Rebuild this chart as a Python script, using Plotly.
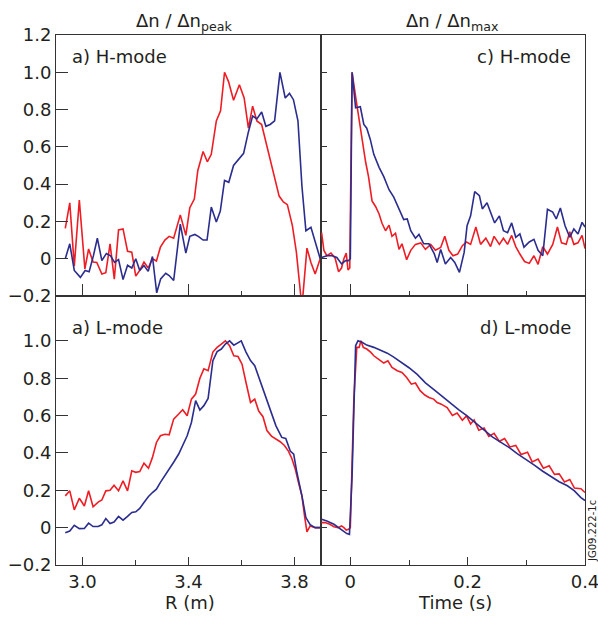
import plotly.graph_objects as go

# ---------------- data ----------------
# a) H-mode, radial profile (R in m)
R_H_red = [2.935,2.952,2.969,2.988,3.009,3.023,3.040,3.054,3.073,3.088,
           3.104,3.120,3.136,3.153,3.170,3.186,3.201,3.216,3.232,3.248,
           3.264,3.279,3.294,3.311,3.327,3.344,3.369,3.390,3.405,3.422,
           3.435,3.455,3.471,3.486,3.505,3.521,3.536,3.551,3.570,3.592,
           3.610,3.626,3.642,3.658,3.676,3.692,3.708,3.723,3.742,3.758,
           3.773,3.792,3.807,3.828,3.847,3.862,3.878,3.897]
H_red = [0.163,0.30,-0.04,0.315,-0.055,0.052,-0.018,-0.02,-0.082,-0.075,
         0.08,-0.11,0.154,0.16,0.04,0.035,-0.093,-0.063,-0.018,-0.05,
         0.0,-0.012,0.062,0.10,0.12,0.11,0.235,0.125,0.274,0.32,
         0.472,0.575,0.52,0.56,0.739,0.793,1.0,0.95,0.85,0.933,
         0.862,0.70,0.818,0.739,0.72,0.63,0.53,0.452,0.336,0.305,
         0.29,0.178,0.036,-0.26,0.057,-0.02,-0.082,0.0]
R_H_blue = [2.935,2.952,2.969,2.992,3.010,3.025,3.041,3.056,3.073,3.090,
            3.106,3.121,3.136,3.153,3.170,3.186,3.201,3.216,3.232,3.248,
            3.264,3.280,3.295,3.314,3.327,3.344,3.369,3.390,3.405,3.424,
            3.437,3.455,3.470,3.486,3.505,3.520,3.536,3.552,3.570,3.586,
            3.608,3.626,3.642,3.658,3.676,3.692,3.708,3.725,3.745,3.765,
            3.781,3.796,3.813,3.828,3.843,3.862,3.878,3.897]
H_blue = [0.0,0.08,-0.063,-0.1,-0.063,-0.07,0.015,0.11,-0.01,0.028,
          0.015,-0.02,-0.005,-0.112,-0.035,-0.05,0.0,-0.063,-0.036,-0.068,
          0.012,-0.183,-0.108,-0.078,-0.09,-0.117,0.186,0.03,0.12,0.13,
          0.12,0.10,0.10,0.277,0.197,0.256,0.42,0.41,0.50,0.53,
          0.565,0.68,0.765,0.75,0.787,0.71,0.72,0.74,1.0,0.862,
          0.887,0.853,0.74,0.39,0.15,0.168,0.094,0.0]

# c) H-mode, time trace (t in s)
t_Hc_red = [-0.049,-0.045,-0.040,-0.033,-0.026,-0.020,-0.015,-0.011,-0.007,-0.004,
            -0.001,0.003,0.009,0.014,0.020,0.026,0.031,0.037,0.043,0.049,
            0.054,0.060,0.066,0.071,0.077,0.083,0.088,0.096,0.103,0.111,
            0.120,0.128,0.137,0.145,0.154,0.161,0.168,0.175,0.183,0.191,
            0.198,0.205,0.214,0.222,0.231,0.239,0.245,0.254,0.261,0.268,
            0.275,0.282,0.289,0.297,0.305,0.313,0.320,0.328,0.336,0.345,
            0.353,0.360,0.368,0.374,0.381,0.388,0.395,0.400]
Hc_red = [0.14,0.044,0.016,0.03,0.004,-0.07,-0.05,0.0,0.03,-0.06,
          -0.05,1.0,0.87,0.76,0.64,0.52,0.44,0.31,0.28,0.24,
          0.19,0.15,0.18,0.12,0.137,0.05,0.08,-0.005,0.045,0.077,
          0.085,0.05,0.077,0.045,0.06,0.12,0.045,0.016,0.025,0.07,
          0.09,0.077,0.17,0.077,0.11,0.065,0.12,0.077,0.11,0.077,
          0.125,0.065,0.025,-0.015,-0.025,0.016,-0.03,0.065,0.025,0.077,
          0.17,0.085,0.077,0.145,0.077,0.085,0.125,0.055]
t_Hc_blue = [-0.049,-0.040,-0.031,-0.023,-0.015,-0.008,-0.003,0.000,
             0.003,0.009,0.017,0.023,0.028,0.034,0.040,0.049,0.057,0.066,
             0.074,0.083,0.091,0.097,0.103,0.111,0.117,0.125,0.134,0.143,
             0.148,0.154,0.162,0.171,0.178,0.186,0.194,0.199,0.205,0.212,
             0.220,0.225,0.233,0.239,0.246,0.254,0.261,0.268,0.275,0.282,
             0.289,0.296,0.305,0.313,0.320,0.328,0.336,0.345,0.351,0.358,
             0.366,0.374,0.381,0.388,0.395,0.400]
Hc_blue = [0.007,0.016,0.016,0.007,-0.028,-0.01,-0.01,0.0,
           1.0,0.81,0.815,0.72,0.70,0.64,0.56,0.49,0.44,0.37,
           0.33,0.27,0.21,0.213,0.15,0.11,0.13,0.08,0.08,0.027,
           -0.02,0.05,-0.028,0.007,-0.02,-0.073,0.034,0.177,0.23,0.36,
           0.338,0.267,0.30,0.249,0.192,0.23,0.15,0.14,0.192,0.115,
           0.133,0.062,0.09,0.104,0.045,0.016,0.265,0.25,0.213,0.272,
           0.177,0.115,0.16,0.133,0.195,0.17]

# a) L-mode, radial profile
R_L_red = [2.935,2.952,2.969,2.988,3.007,3.023,3.040,3.059,3.073,3.088,
           3.104,3.119,3.136,3.153,3.170,3.186,3.201,3.216,3.232,3.249,
           3.264,3.279,3.294,3.311,3.327,3.344,3.363,3.378,3.395,3.411,
           3.427,3.443,3.458,3.474,3.492,3.508,3.524,3.539,3.555,3.571,
           3.587,3.602,3.617,3.634,3.650,3.665,3.681,3.696,3.713,3.730,
           3.746,3.762,3.777,3.790,3.803,3.815,3.828,3.838,3.847,3.859,
           3.878,3.900]
L_red = [0.17,0.197,0.095,0.157,0.116,0.197,0.112,0.137,0.148,0.197,
         0.20,0.227,0.197,0.25,0.197,0.304,0.296,0.30,0.345,0.318,
         0.376,0.456,0.492,0.50,0.497,0.581,0.608,0.631,0.599,0.688,
         0.715,0.80,0.85,0.84,0.94,0.965,0.983,1.0,0.974,0.92,
         0.916,0.875,0.777,0.67,0.688,0.624,0.594,0.52,0.49,0.474,
         0.46,0.44,0.41,0.37,0.313,0.241,0.17,0.062,-0.023,0.009,
         0.0,0.0]
R_L_blue = [2.935,2.952,2.969,2.988,3.007,3.023,3.040,3.059,3.073,3.088,
            3.104,3.119,3.136,3.153,3.170,3.186,3.201,3.216,3.232,3.249,
            3.264,3.279,3.294,3.311,3.327,3.344,3.363,3.378,3.395,3.411,
            3.427,3.443,3.458,3.474,3.492,3.508,3.524,3.539,3.555,3.571,
            3.587,3.599,3.617,3.634,3.650,3.665,3.681,3.696,3.713,3.730,
            3.752,3.767,3.784,3.797,3.809,3.828,3.843,3.859,3.878,3.900]
L_blue = [-0.027,-0.018,0.013,-0.005,-0.004,0.024,0.006,0.006,0.015,0.049,
          0.022,0.03,0.06,0.04,0.06,0.081,0.085,0.103,0.135,0.167,
          0.188,0.206,0.242,0.277,0.31,0.35,0.394,0.438,0.492,0.563,
          0.68,0.63,0.653,0.692,0.894,0.942,0.956,0.983,1.0,0.977,
          0.99,1.0,0.94,0.894,0.867,0.804,0.74,0.68,0.613,0.545,
          0.483,0.477,0.41,0.393,0.295,0.17,0.054,0.016,0.0,0.0]

# d) L-mode, time trace
t_Ld_red = [-0.049,-0.043,-0.035,-0.028,-0.021,-0.015,-0.011,-0.007,-0.003,0.000,
            0.006,0.011,0.015,0.018,0.022,0.028,0.035,0.040,0.049,0.057,
            0.064,0.071,0.080,0.088,0.096,0.104,0.111,0.119,0.127,0.134,
            0.142,0.148,0.155,0.165,0.174,0.182,0.191,0.198,0.205,0.211,
            0.219,0.228,0.236,0.245,0.254,0.263,0.272,0.282,0.291,0.302,
            0.310,0.320,0.329,0.339,0.348,0.356,0.365,0.374,0.382,0.393,
            0.400]
Ld_red = [0.027,0.027,0.018,0.005,0.0,0.009,0.0,-0.013,-0.009,0.0,
          0.688,0.965,0.965,1.0,0.965,0.956,0.938,0.92,0.899,0.881,
          0.893,0.858,0.84,0.831,0.804,0.768,0.774,0.733,0.71,0.697,
          0.688,0.67,0.661,0.643,0.60,0.613,0.575,0.598,0.555,0.577,
          0.522,0.533,0.488,0.505,0.462,0.477,0.432,0.44,0.392,0.404,
          0.352,0.367,0.318,0.331,0.285,0.288,0.245,0.258,0.212,0.208,
          0.188]
t_Ld_blue = [-0.049,-0.040,-0.028,-0.017,-0.006,-0.0015,0.003,0.009,0.013,0.020,
             0.028,0.040,0.051,0.063,0.074,0.085,0.100,0.114,0.128,0.143,
             0.157,0.171,0.185,0.199,0.214,0.228,0.242,0.256,0.271,0.285,
             0.299,0.313,0.328,0.342,0.356,0.370,0.382,0.393,0.400]
Ld_blue = [0.045,0.036,0.018,-0.005,-0.032,-0.036,0.277,0.974,1.0,0.992,
           0.977,0.965,0.952,0.934,0.913,0.89,0.856,0.82,0.775,0.737,
           0.70,0.662,0.63,0.598,0.558,0.522,0.486,0.458,0.428,0.395,
           0.367,0.336,0.302,0.274,0.246,0.224,0.197,0.161,0.145]

for a, b in [(R_H_red, H_red), (R_H_blue, H_blue), (t_Hc_red, Hc_red),
             (t_Hc_blue, Hc_blue), (R_L_red, L_red), (R_L_blue, L_blue),
             (t_Ld_red, Ld_red), (t_Ld_blue, Ld_blue)]:
    assert len(a) == len(b), (len(a), len(b))

# tick definitions
Y_TICKS_TOP = [-0.2, 0, 0.2, 0.4, 0.6, 0.8, 1.0, 1.2]
Y_TEXT_TOP = ["\u22120.2", "0", "0.2", "0.4", "0.6", "0.8", "1.0", "1.2"]
Y_TICKS_BOT = [-0.2, 0, 0.2, 0.4, 0.6, 0.8, 1.0]
Y_TEXT_BOT = ["\u22120.2", "0", "0.2", "0.4", "0.6", "0.8", "1.0"]
R_TICKS = [3.0, 3.4, 3.8]
R_TEXT = ["3.0", "3.4", "3.8"]
R_MINOR = [3.2, 3.6]
T_TICKS = [0, 0.2, 0.4]
T_TEXT = ["0", "0.2", "0.4"]
T_MINOR = [0.1, 0.3]

# ---------------- style ----------------
W, H = 598, 619
RED = "#ee1d25"
BLUE = "#2b2d8e"
AX = "#333333"
TXT = "#231f20"
FONT = "DejaVu Sans"
FS = 18


def px(x):
    return x / W


def py(y):
    return 1 - y / H


XL = [px(56), px(321)]
XR = [px(321), px(585)]
YT = [py(296), py(35)]
YB = [py(565), py(296)]

fig = go.Figure()


def add(x, y, color, xa, ya):
    fig.add_trace(go.Scatter(x=x, y=y, mode="lines",
                             line=dict(color=color, width=1.6),
                             xaxis=xa, yaxis=ya, showlegend=False,
                             hoverinfo="skip"))


add(R_H_red, H_red, RED, "x", "y")
add(R_H_blue, H_blue, BLUE, "x", "y")
add(t_Hc_red, Hc_red, RED, "x2", "y2")
add(t_Hc_blue, Hc_blue, BLUE, "x2", "y2")
add(R_L_red, L_red, RED, "x3", "y3")
add(R_L_blue, L_blue, BLUE, "x3", "y3")
add(t_Ld_red, Ld_red, RED, "x4", "y4")
add(t_Ld_blue, Ld_blue, BLUE, "x4", "y4")


def xaxis(domain, anchor, rng, vals, text, minor, labels, mlen, nlen):
    return dict(domain=domain, anchor=anchor, range=rng, automargin=False,
                showline=True, mirror=True, linecolor=AX, linewidth=1,
                ticks="inside", ticklen=mlen, tickwidth=1, tickcolor=AX,
                tickmode="array", tickvals=vals, ticktext=text,
                showticklabels=labels, showgrid=False, zeroline=False,
                ticklabeloverflow="allow",
                tickfont=dict(family=FONT, size=FS, color=TXT),
                minor=dict(ticks="inside", ticklen=nlen, tickwidth=1,
                           tickcolor=AX, tickmode="array", tickvals=minor,
                           showgrid=False))


def yaxis(domain, anchor, rng, vals, text, labels, tlen):
    return dict(domain=domain, anchor=anchor, range=rng, automargin=False,
                showline=True, mirror=True, linecolor=AX, linewidth=1,
                ticks="inside", ticklen=tlen, tickwidth=1, tickcolor=AX,
                tickmode="array", tickvals=vals, ticktext=text,
                showticklabels=labels, showgrid=False, zeroline=False,
                ticklabeloverflow="allow",
                tickfont=dict(family=FONT, size=FS, color=TXT))


fig.update_layout(
    template="none",
    width=W, height=H,
    margin=dict(l=0, r=0, t=0, b=0, pad=0),
    paper_bgcolor="white", plot_bgcolor="white",
    font=dict(family=FONT, size=FS, color=TXT),
    xaxis=xaxis(XL, "y", [2.9, 3.9], R_TICKS, R_TEXT, R_MINOR, False, 12, 5),
    yaxis=yaxis(YT, "x", [-0.2, 1.2], Y_TICKS_TOP, Y_TEXT_TOP, True, 12),
    xaxis2=xaxis(XR, "y2", [-0.05, 0.4], T_TICKS, T_TEXT, T_MINOR, False, 12, 5),
    yaxis2=yaxis(YT, "x2", [-0.2, 1.2], Y_TICKS_TOP, Y_TEXT_TOP, False, 6),
    xaxis3=xaxis(XL, "y3", [2.9, 3.9], R_TICKS, R_TEXT, R_MINOR, True, 8, 5),
    yaxis3=yaxis(YB, "x3", [-0.2, 1.24], Y_TICKS_BOT, Y_TEXT_BOT, True, 12),
    xaxis4=xaxis(XR, "y4", [-0.05, 0.4], T_TICKS, T_TEXT, T_MINOR, True, 8, 5),
    yaxis4=yaxis(YB, "x4", [-0.2, 1.24], Y_TICKS_BOT, Y_TEXT_BOT, False, 6),
)


def ann(text, x, y, xanchor="center", yanchor="middle", size=FS, angle=0):
    fig.add_annotation(text=text, x=px(x), y=py(y), xref="paper", yref="paper",
                       xanchor=xanchor, yanchor=yanchor, showarrow=False,
                       textangle=angle,
                       font=dict(family=FONT, size=size, color=TXT))


ann("\u0394n / \u0394n<sub>peak</sub>", 184, 22)
ann("\u0394n / \u0394n<sub>max</sub>", 452, 22)
ann("a) H-mode", 70, 57, xanchor="left")
ann("c) H-mode", 573, 57, xanchor="right")
ann("a) L-mode", 70, 327, xanchor="left")
ann("d) L-mode", 573, 327, xanchor="right")
ann("R (m)", 190, 602)
ann("Time (s)", 455, 602)
ann("JG09.222-1c", 592, 531, size=10, angle=-90)

# remove the page's default body margin so the figure sits at the window origin
PAGE_JS = ("document.body.style.margin='0px';"
           "document.documentElement.style.overflow='hidden';")
fig.write_html("out.html", default_width=f"{W}px", default_height=f"{H}px",
               post_script=PAGE_JS,
               config={"displayModeBar": False, "staticPlot": True})
